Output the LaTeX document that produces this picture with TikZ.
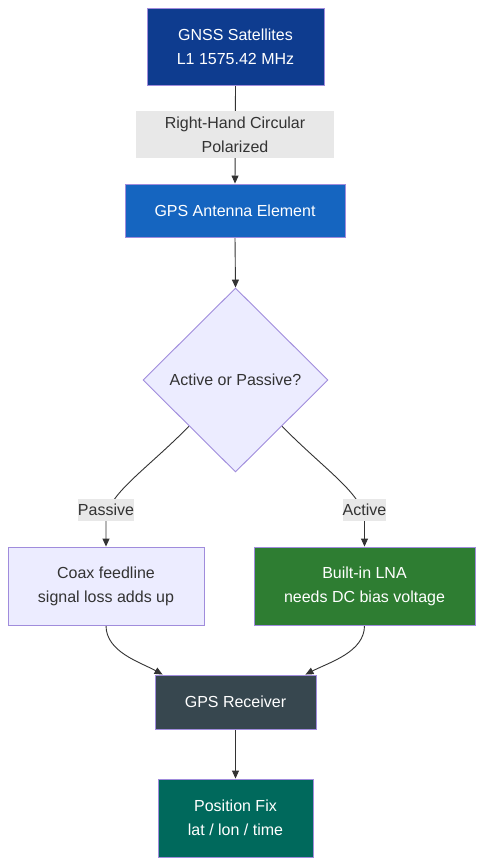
\documentclass[tikz,border=0pt]{standalone}
\usepackage{fontspec}
\setmainfont{Liberation Sans}
\usetikzlibrary{shapes.geometric,arrows.meta,backgrounds}
\definecolor{gnssc}{HTML}{0E3C8F}
\definecolor{antc}{HTML}{1565C0}
\definecolor{lnac}{HTML}{2E7D32}
\definecolor{recc}{HTML}{37474F}
\definecolor{posc}{HTML}{00695C}
\definecolor{lightc}{HTML}{ECECFF}
\definecolor{strokec}{HTML}{A08CDC}
\definecolor{linec}{HTML}{333333}
\definecolor{lblc}{HTML}{E8E8E8}
\tikzset{
  base/.style={draw=strokec, line width=0.9pt, inner sep=0pt, align=center,
    font=\fontsize{16}{24}\selectfont},
  darkbox/.style={base, rectangle, text=white},
  lightbox/.style={base, rectangle, fill=lightc, text=linec},
  lbl/.style={fill=lblc, inner sep=0pt, align=center, text=linec,
    font=\fontsize{16}{24}\selectfont},
  arr/.style={draw=linec, line width=0.9pt, -{Triangle[length=8pt,width=7pt]}}
}
\begin{document}
\begin{tikzpicture}[x=1pt,y=-1pt]
\useasboundingbox (0,0) rectangle (483,866);

\node[darkbox, fill=gnssc, minimum width=177pt, minimum height=77pt] (gnss) at (235.5,46.5) {GNSS Satellites\\L1 1575.42 MHz};
\node[darkbox, fill=antc, minimum width=220pt, minimum height=53pt] (ant) at (235,210.5) {GPS Antenna Element};
\node[base, diamond, fill=lightc, text=linec, minimum width=185pt, minimum height=184pt] (dia) at (235.5,380) {Active or Passive?};
\node[lightbox, minimum width=196pt, minimum height=78pt] (coax) at (106,586) {Coax feedline\\signal loss adds up};
\node[darkbox, fill=lnac, minimum width=221pt, minimum height=78pt] (lna) at (364.5,586) {Built-in LNA\\needs DC bias voltage};
\node[darkbox, fill=recc, minimum width=161pt, minimum height=54pt] (rec) at (235.5,702) {GPS Receiver};
\node[darkbox, fill=posc, minimum width=155pt, minimum height=78pt] (pos) at (235.5,818) {Position Fix\\lat / lon / time};

\node[lbl, minimum width=198pt, minimum height=47pt] (rhcp) at (235,134.5) {Right-Hand Circular\\Polarized};
\node[lbl, minimum width=56pt, minimum height=22pt] (plab) at (106,510) {Passive};
\node[lbl, minimum width=43pt, minimum height=22pt] (alab) at (364.5,510) {Active};

\begin{scope}[on background layer]
\fill[white] (0,0) rectangle (483,866);
\draw[arr] (gnss.south) -- (ant.north);
\draw[arr] (ant.south) -- (dia.north);
\draw[arr] (dia.south west) .. controls (145,471) and (106,495) .. (plab.south) -- (coax.north);
\draw[arr] (dia.south east) .. controls (326,471) and (364.5,495) .. (alab.south) -- (lna.north);
\draw[arr] (coax.south) .. controls (106,652) and (140,662) .. ([xshift=8pt]rec.north west);
\draw[arr] (lna.south) .. controls (364.5,652) and (330,662) .. ([xshift=-11pt]rec.north east);
\draw[arr] (rec.south) -- (pos.north);
\end{scope}
\end{tikzpicture}
\end{document}
